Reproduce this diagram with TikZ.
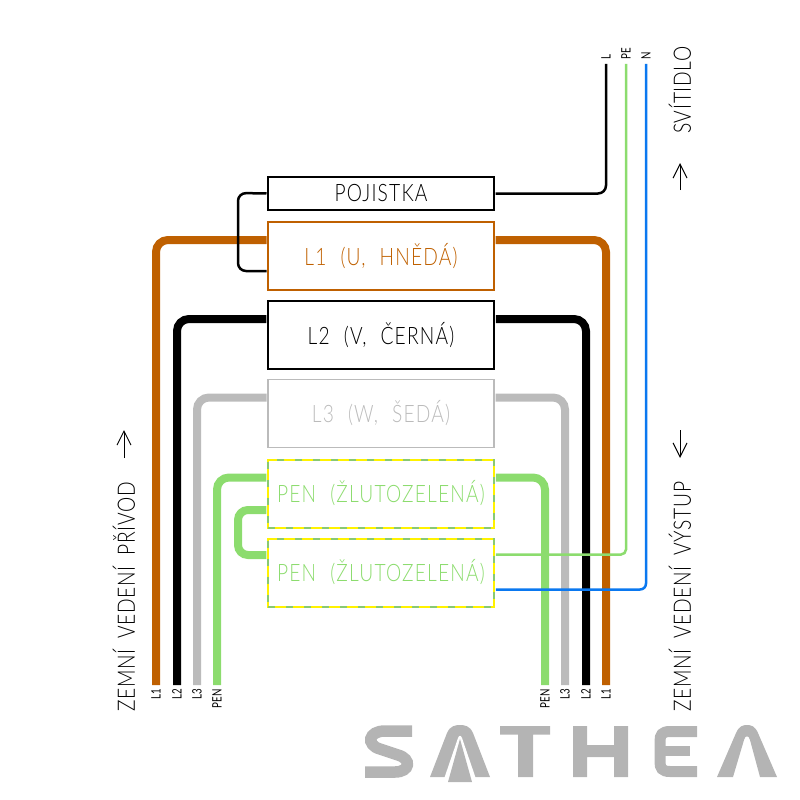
\documentclass[tikz,border=0pt]{standalone}
\usepackage{fontspec}
\setmainfont{Lato Light}
\newfontfamily\wirefont[FakeStretch=0.8,LetterSpace=5,WordSpace=2.2]{Lato Light}
\newfontfamily\sidefont[FakeStretch=0.8,LetterSpace=3,WordSpace=1.8]{Lato Light}
\newfontfamily\tagfont[FakeStretch=0.75]{Lato}
\usetikzlibrary{arrows.meta}

\definecolor{brownwire}{HTML}{BF6000}
\definecolor{greywire}{HTML}{BBBBBB}
\definecolor{penwire}{HTML}{8CDC6E}
\definecolor{bluewire}{HTML}{0A78F0}
\definecolor{logogrey}{HTML}{B4B4B4}

\begin{document}
\begin{tikzpicture}[x=1pt,y=-1pt,
    wbox/.style={draw,line width=1.5pt,minimum width=226pt,minimum height=68pt,inner sep=0pt,font=\fontsize{24}{24}\wirefont},
    penbox/.style={wbox,line width=2pt,draw=yellow,text=penwire,postaction={draw=penwire!80!gray,dash pattern=on 7pt off 11pt}},
    wire/.style={rounded corners=12pt,line width=8pt,shorten >=0.75pt},
    thinwire/.style={rounded corners=8pt,line width=2.5pt,shorten <=0.75pt},
    tag/.style={rotate=90,inner sep=0pt,font=\fontsize{13}{13}\tagfont},
    side/.style={rotate=90,inner sep=0pt,font=\fontsize{24}{24}\sidefont},
    tail/.style={-{Straight Barb[length=14pt,width=14pt]},line width=1pt}]
    \useasboundingbox (0,0) rectangle (800,800);

    \node[wbox,minimum height=33pt] (fuse) at (381,193.5) {POJISTKA};
    \node[wbox,draw=brownwire,text=brownwire] (l1) at (381,256) {L1 (U, HNĚDÁ)};
    \node[wbox,line width=2pt] (l2) at (381,335) {L2 (V, ČERNÁ)};
    \node[wbox,draw=greywire,text=greywire] (l3) at (381,413.5) {L3 (W, ŠEDÁ)};
    \node[penbox] (pen1) at (381,493.5) {PEN (ŽLUTOZELENÁ)};
    \node[penbox] (pen2) at (381,572.5) {PEN (ŽLUTOZELENÁ)};

    % wire ends
    \coordinate (l1a) at (156,685);
    \coordinate (l2a) at (177,685);
    \coordinate (l3a) at (197,685);
    \coordinate (pena) at (217,685);
    \coordinate (penb) at (545,685);
    \coordinate (l3b) at (565,685);
    \coordinate (l2b) at (586,685);
    \coordinate (l1b) at (606,685);
    \coordinate (lout) at (606,64);
    \coordinate (peout) at (626,64);
    \coordinate (nout) at (646,64);
    \coordinate (loopa) at (238,193);
    \coordinate (loopb) at (238,271);
    \coordinate (loopc) at (238,510);
    \coordinate (loopd) at (238,555);

    \draw[wire,brownwire] (l1a) |- ([yshift=16pt]l1.west);
    \draw[wire,brownwire] (l1b) |- ([yshift=16pt]l1.east);
    \draw[wire,black] (l2a) |- ([yshift=16pt]l2.west);
    \draw[wire,black] (l2b) |- ([yshift=16pt]l2.east);
    \draw[wire,greywire] (l3a) |- ([yshift=16pt]l3.west);
    \draw[wire,greywire] (l3b) |- ([yshift=16pt]l3.east);
    \draw[wire,penwire] (pena) |- ([yshift=16pt]pen1.west);
    \draw[wire,penwire] (penb) |- ([yshift=16pt]pen1.east);
    \draw[wire,penwire,rounded corners=10pt,shorten <=0.75pt] (pen1.west |- loopc) -- (loopc) -- (loopd) -- (pen2.west |- loopd);

    \draw[thinwire,black,shorten >=0.75pt] (fuse.west) -- (loopa) -- (loopb) -- (l1.west |- loopb);
    \draw[thinwire,black] (fuse.east) -| (lout);
    \draw[thinwire,penwire,rounded corners=5pt] ([yshift=18pt]pen2.east) -| (peout);
    \draw[thinwire,bluewire,rounded corners=6pt] ([yshift=-17pt]pen2.east) -| (nout);

    \node[tag,anchor=east] (tl1a) at (156,689) {L1};
    \node[tag,anchor=east] (tl2a) at (177,689) {L2};
    \node[tag,anchor=east] (tl3a) at (197,689) {L3};
    \node[tag,anchor=east] (tpena) at (217,689) {PEN};
    \node[tag,anchor=east] (tpenb) at (545,689) {PEN};
    \node[tag,anchor=east] (tl3b) at (565,689) {L3};
    \node[tag,anchor=east] (tl2b) at (586,689) {L2};
    \node[tag,anchor=east] (tl1b) at (606,689) {L1};
    \node[tag,anchor=west] (tl) at (606,60) {L};
    \node[tag,anchor=west] (tpe) at (626,60) {PE};
    \node[tag,anchor=west] (tn) at (646,60) {N};

    \node[side,anchor=west] (inlet) at (124,712) {ZEMNÍ VEDENÍ PŘÍVOD};
    \node[side,anchor=west] (outlet) at (680,712) {ZEMNÍ VEDENÍ VÝSTUP};
    \node[side,anchor=west] (lamp) at (680,134) {SVÍTIDLO};

    \coordinate (ina) at (124,458);
    \coordinate (inb) at (124,430);
    \coordinate (outa) at (680,430);
    \coordinate (outb) at (680,458);
    \coordinate (lampa) at (680,190);
    \coordinate (lampb) at (680,163);
    \draw[tail] (ina) -- (inb);
    \draw[tail] (outa) -- (outb);
    \draw[tail] (lampa) -- (lampb);

    % logo
    \draw[logogrey,line width=11.5pt] (412,731) -- (385,731) .. controls (368,731) and (366,745) .. (380,749) -- (398,755) .. controls (412,759) and (410,772) .. (395,772) -- (365,772);
    \fill[logogrey] (430,777) -- (447,733) .. controls (450,726) and (455,725) .. (460,725) .. controls (465,725) and (470,726) .. (473,733) -- (490,777) -- cycle;
    \fill[white] (444,779) -- (458,738) .. controls (459,735) and (461,735) .. (462,738) -- (476,779) -- cycle;
    \fill[logogrey] (448,782) -- (460,739) -- (472,782) -- cycle;
    \fill[logogrey] (500,726) rectangle (550,734.5) (518,726) rectangle (533,777);
    \fill[logogrey] (573,726) rectangle (587,777) (614,726) rectangle (628,777) (573,745) rectangle (628,757);
    \draw[logogrey,line width=11pt] (697,731.5) -- (670,731.5) .. controls (662,731.5) and (660,735) .. (660,741) -- (660,762) .. controls (660,768) and (662,771.5) .. (670,771.5) -- (697,771.5);
    \fill[logogrey] (660,746) rectangle (690,756);
    \fill[logogrey] (717,777) -- (736,733) .. controls (739,726) and (743,725) .. (747,725) .. controls (751,725) and (755,726) .. (758,733) -- (777,777) -- (760,777) -- (750,740) .. controls (749,735) and (745,735) .. (744,740) -- (733,777) -- cycle;
\end{tikzpicture}
\end{document}
